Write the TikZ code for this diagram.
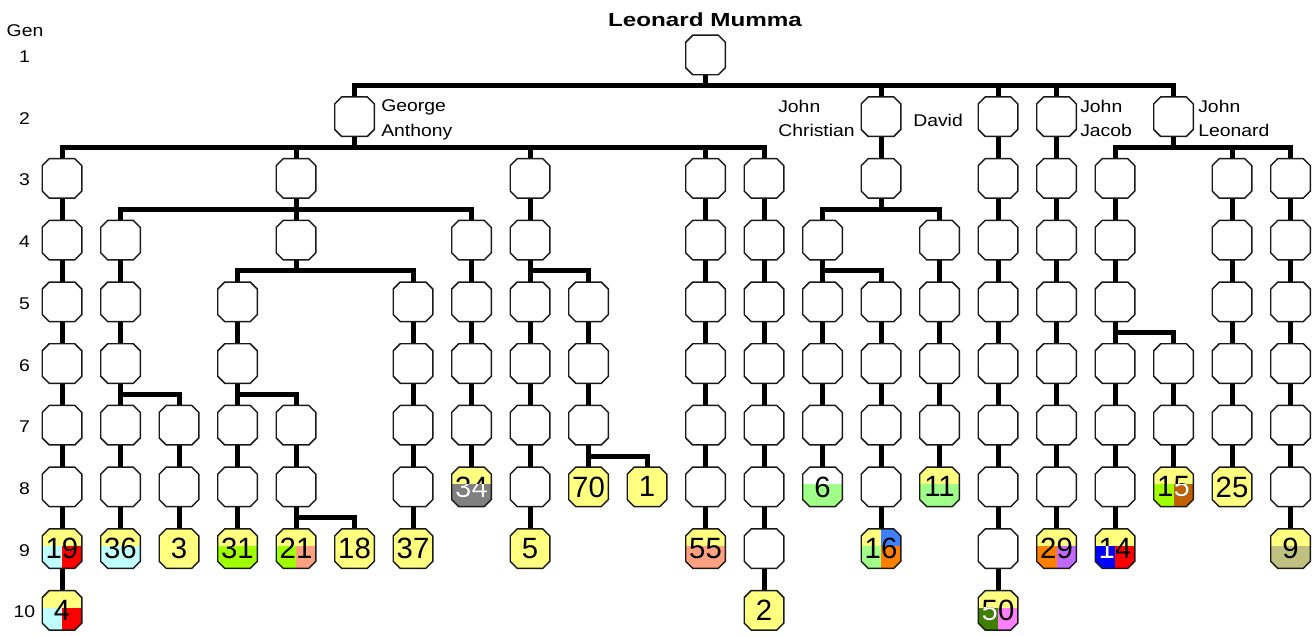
\documentclass[tikz,border=0pt]{standalone}
\usepackage{fontspec}
\setmainfont{Liberation Sans}
\newfontfamily\lblfont[FakeStretch=1.14]{Liberation Sans}
\newfontfamily\ttlfont[FakeStretch=1.28]{Liberation Sans}
\newfontfamily\numfont{Liberation Sans}
\usetikzlibrary{calc}
\pgfdeclarelayer{background}
\pgfsetlayers{background,main}
\definecolor{yel}{HTML}{FFFF80}
\definecolor{cyn}{HTML}{C0FFFF}
\definecolor{rd}{HTML}{FF0000}
\definecolor{lime}{HTML}{A0FF00}
\definecolor{salm}{HTML}{FFA080}
\definecolor{gry}{HTML}{808080}
\definecolor{lgrn}{HTML}{A0FF88}
\definecolor{blutwo}{HTML}{4080FF}
\definecolor{orng}{HTML}{FF8000}
\definecolor{purp}{HTML}{C068FF}
\definecolor{blu}{HTML}{0000FF}
\definecolor{dgrn}{HTML}{408000}
\definecolor{pnk}{HTML}{FF80FF}
\definecolor{brwn}{HTML}{C06000}
\definecolor{khak}{HTML}{C0C080}
\tikzset{
  box/.style={rectangle, minimum width=29.25pt, minimum height=29.25pt,
    inner sep=0pt, draw=none},
  octo/.style={draw=black!90, line width=1.1pt, fill=white},
  q/.style n args={4}{path picture={
    \coordinate (qc) at ($(\curnode.center)+(0pt,1.9pt)$);
    \fill[#1] (\curnode.north west) rectangle (qc);
    \fill[#2] (\curnode.north east) rectangle (qc);
    \fill[#3] (\curnode.west |- qc) rectangle (\curnode.south);
    \fill[#4] (\curnode.east |- qc) rectangle (\curnode.south);}},
  yl/.style={fill=yel},
  num/.style={inner sep=0pt, font=\numfont\fontsize{22}{22}\selectfont},
  edge/.style={line width=3.75pt, line join=miter, draw=black},
  lbl/.style={inner sep=0pt, align=left, font=\lblfont\fontsize{12.75}{18.4}\selectfont},
  genl/.style={inner sep=0pt, anchor=base, font=\lblfont\fontsize{12.75}{14}\selectfont},
}
\newcommand\gnode[4][]{%
  \node[box] (#2) at ({62+58.5*#3},{55+61.7*(#4-1)}) {};
  \def\curnode{#2}%
  \path[octo,#1] ($(#2.north west)+(7,0)$) -- ($(#2.north east)+(-7,0)$)
    -- ($(#2.north east)+(0,7)$) -- ($(#2.south east)+(0,-7)$)
    -- ($(#2.south east)+(-7,0)$) -- ($(#2.south west)+(7,0)$)
    -- ($(#2.south west)+(0,-7)$) -- ($(#2.north west)+(0,7)$) -- cycle;}
\newcommand\gcol[4]{\foreach \g in {#3,...,#4}{\gnode{#1\g}{#2}{\g}}}
\newcommand\edgeS[2]{\draw[edge] (#1) -- (#2);}
\newcommand\edgeB[2]{\draw[edge] (#1) |- ($(#1)!.5!(#2)$) -| (#2);}
\newcommand\colchain[3]{\foreach \g in {#2,...,#3}{\pgfmathtruncatemacro\h{\g+1}\edgeS{#1\g}{#1\h}}}
\newcommand\numtext[2]{\node[num] (t#1) at (#1.center) {#2};}
\newcommand\whitetext[3]{\begin{scope}\clip #3;\node[num,text=white] at (#1.center) {#2};\end{scope}}
\begin{document}
\begin{tikzpicture}[x=0.75pt,y=-0.75pt]
\useasboundingbox (0,0) rectangle (1316,635);
% title and generation labels
\node[anchor=base, inner sep=0pt, font=\ttlfont\bfseries\fontsize{14.2}{16}\selectfont] (title) at (705,27) {Leonard Mumma};
\node[genl] (gen) at (25,37) {Gen};
\foreach \g in {1,...,10}{\node[genl] (g\g) at ({24.5},{55+61.7*(\g-1)+7.5}) {\g};}
% generation 1 and 2
\gnode{L1}{11}{1}
\gnode{F2}{5}{2}
\gnode{O2}{14}{2}
\gnode{Q2}{16}{2}
\gnode{R2}{17}{2}
\gnode{T2}{19}{2}
% plain nodes
\gcol{A}{0}{3}{8}
\gcol{B}{1}{4}{8}
\gcol{C}{2}{7}{8}
\gcol{D}{3}{5}{8}
\gcol{E}{4}{3}{4}
\gcol{E}{4}{7}{8}
\gcol{G}{6}{5}{8}
\gcol{H}{7}{4}{7}
\gcol{I}{8}{3}{8}
\gcol{J}{9}{5}{7}
\gcol{L}{11}{3}{8}
\gcol{M}{12}{3}{9}
\gcol{N}{13}{4}{7}
\gcol{O}{14}{3}{3}
\gcol{O}{14}{5}{8}
\gcol{P}{15}{4}{7}
\gcol{Q}{16}{3}{9}
\gcol{R}{17}{3}{8}
\gcol{S}{18}{3}{8}
\gcol{T}{19}{6}{7}
\gcol{U}{20}{3}{7}
\gcol{V}{21}{3}{8}
% coloured leaf nodes
\gnode[q={yel}{yel}{cyn}{rd}]{A9}{0}{9}
\gnode[q={yel}{yel}{cyn}{rd}]{A10}{0}{10}
\gnode[q={yel}{yel}{cyn}{cyn}]{B9}{1}{9}
\gnode[yl]{C9}{2}{9}
\gnode[q={yel}{yel}{lime}{lime}]{D9}{3}{9}
\gnode[q={yel}{yel}{lime}{salm}]{E9}{4}{9}
\gnode[yl]{F9}{5}{9}
\gnode[yl]{G9}{6}{9}
\gnode[q={yel}{yel}{gry}{gry}]{H8}{7}{8}
\gnode[yl]{I9}{8}{9}
\gnode[yl]{J8}{9}{8}
\gnode[yl]{K8}{10}{8}
\gnode[q={yel}{yel}{salm}{salm}]{L9}{11}{9}
\gnode[yl]{M10}{12}{10}
\gnode[q={white}{white}{lgrn}{lgrn}]{N8}{13}{8}
\gnode[q={yel}{blutwo}{lgrn}{orng}]{O9}{14}{9}
\gnode[q={yel}{yel}{lgrn}{lgrn}]{P8}{15}{8}
\gnode[q={yel}{yel}{dgrn}{pnk}]{Q10}{16}{10}
\gnode[q={yel}{yel}{orng}{purp}]{R9}{17}{9}
\gnode[q={yel}{yel}{blu}{rd}]{S9}{18}{9}
\gnode[q={yel}{yel}{lime}{brwn}]{T8}{19}{8}
\gnode[yl]{U8}{20}{8}
\gnode[q={yel}{yel}{khak}{khak}]{V9}{21}{9}
% numbers
\numtext{A9}{19}
\numtext{A10}{4}
\numtext{B9}{36}
\numtext{C9}{3}
\numtext{D9}{31}
\numtext{E9}{21}
\numtext{F9}{18}
\numtext{G9}{37}
\numtext{H8}{34}
\numtext{I9}{5}
\numtext{J8}{70}
\numtext{K8}{1}
\numtext{L9}{55}
\numtext{M10}{2}
\numtext{N8}{6}
\numtext{O9}{16}
\numtext{P8}{11}
\numtext{Q10}{50}
\numtext{R9}{29}
\numtext{S9}{14}
\numtext{T8}{15}
\numtext{U8}{25}
\numtext{V9}{9}
\whitetext{H8}{34}{($(H8.west)+(0pt,1.9pt)$) rectangle (H8.south east)}
\whitetext{Q10}{50}{($(Q10.west)+(0pt,1.9pt)$) rectangle (Q10.south)}
\whitetext{S9}{14}{($(S9.west)+(0pt,1.9pt)$) rectangle (S9.south)}
\whitetext{T8}{15}{($(T8.center)+(0pt,1.9pt)$) rectangle (T8.south east)}
% names
\node[lbl, anchor=north west] (nGeorge) at (381,99.5) {George\\Anthony};
\node[lbl, anchor=north west] (nJohnC) at (778,99.5) {John\\Christian};
\node[lbl, anchor=base west] (nDavid) at (913,126) {David};
\node[lbl, anchor=north west] (nJohnJ) at (1080,99.5) {John\\Jacob};
\node[lbl, anchor=north west] (nJohnL) at (1198,99.5) {John\\Leonard};
% connectors
\begin{pgfonlayer}{background}
\foreach \c in {F2,O2,Q2,R2,T2}{\edgeB{L1}{\c}}
\foreach \c in {A3,E3,I3,L3,M3}{\edgeB{F2}{\c}}
\colchain{A}{3}{9}
\edgeS{E3}{E4}\edgeB{E3}{B4}\edgeB{E3}{H4}
\colchain{B}{4}{5}
\edgeS{B6}{B7}\edgeB{B6}{C7}
\colchain{B}{7}{8}
\colchain{C}{7}{8}
\edgeB{E4}{D5}\edgeB{E4}{G5}
\edgeS{D5}{D6}\edgeS{D6}{D7}\edgeB{D6}{E7}
\colchain{D}{7}{8}
\edgeS{E7}{E8}\edgeS{E8}{E9}\edgeB{E8}{F9}
\colchain{G}{5}{8}
\colchain{H}{4}{7}
\edgeS{I3}{I4}\edgeS{I4}{I5}\edgeB{I4}{J5}
\colchain{I}{5}{8}
\colchain{J}{5}{7}
\edgeB{J7}{K8}
\colchain{L}{3}{8}
\colchain{M}{3}{9}
\edgeS{O2}{O3}\edgeB{O3}{N4}\edgeB{O3}{P4}
\edgeS{N4}{N5}\edgeB{N4}{O5}
\colchain{N}{5}{7}
\colchain{O}{5}{8}
\colchain{P}{4}{7}
\colchain{Q}{2}{9}
\colchain{R}{2}{8}
\foreach \c in {S3,U3,V3}{\edgeB{T2}{\c}}
\colchain{S}{3}{8}
\edgeB{S5}{T6}
\colchain{T}{6}{7}
\colchain{U}{3}{7}
\colchain{V}{3}{8}
\end{pgfonlayer}
\end{tikzpicture}
\end{document}
